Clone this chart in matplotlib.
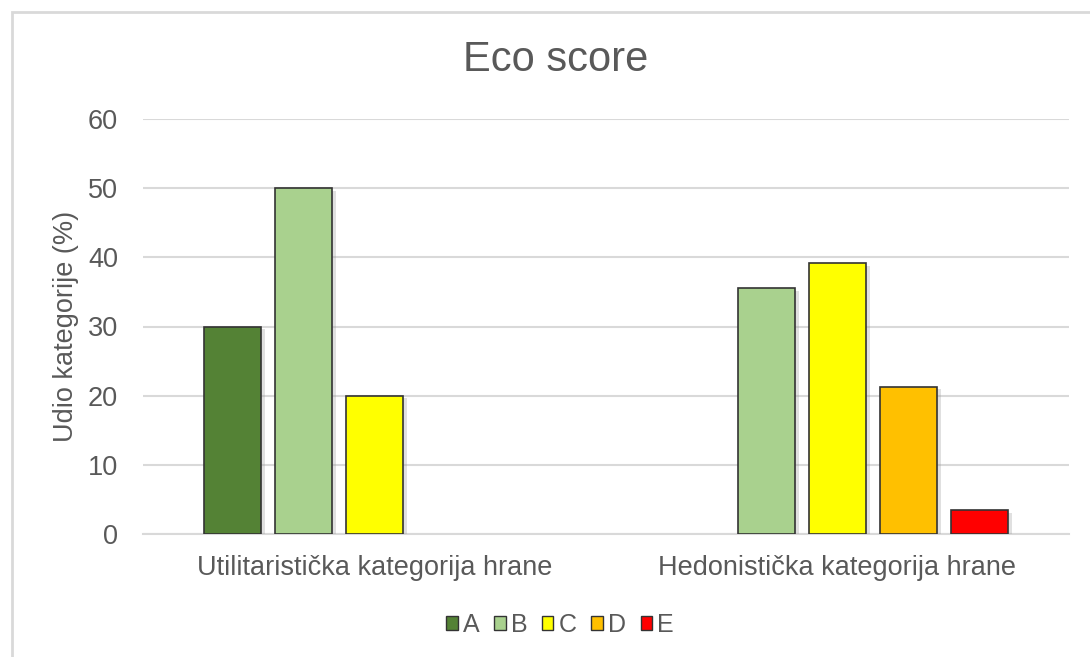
import numpy as np
import matplotlib.pyplot as plt
import matplotlib.patheffects as pe
from matplotlib.patches import Rectangle

plt.rcParams['font.family'] = ['Liberation Sans', 'DejaVu Sans']

# data
categories = ['Utilitaristička kategorija hrane', 'Hedonistička kategorija hrane']
grades = ['A', 'B', 'C', 'D', 'E']
values = {
    'A': [30.0, 0.0],
    'B': [50.0, 35.6],
    'C': [20.0, 39.2],
    'D': [0.0, 21.3],
    'E': [0.0, 3.4],
}
colors = ['#548235', '#a9d18e', '#ffff00', '#ffc000', '#ff0000']
yticks = [0, 10, 20, 30, 40, 50, 60]

text_col = '#595959'

fig = plt.figure(figsize=(10.9, 6.57), dpi=100)
ax = fig.add_axes([143 / 1090, 1 - 534 / 657, 926 / 1090, 415 / 657])

x = np.arange(len(categories))
slot = 71 / 463
width = 57 / 463
shadow = [pe.SimplePatchShadow(offset=(3, -2), shadow_rgbFace='#999999', alpha=0.3), pe.Normal()]

for i, g in enumerate(grades):
    pos = x + (i - 2) * slot
    vals = np.array(values[g])
    keep = vals > 0
    bars = ax.bar(pos[keep], vals[keep], width, color=colors[i], edgecolor='#333333',
                  linewidth=1.2, zorder=3, label=g)
    for b in bars:
        b.set_path_effects(shadow)

ax.set_xlim(-0.5, 1.5)
ax.set_ylim(0, 60)
ax.set_yticks(yticks)
ax.set_xticks(x)
ax.set_xticklabels(categories)
ax.tick_params(axis='both', length=0, labelsize=19.5, colors=text_col)
ax.tick_params(axis='x', pad=15)
ax.tick_params(axis='y', pad=18)
ax.grid(axis='y', color='#d9d9d9', linewidth=1.5, zorder=0)
ax.set_axisbelow(True)
for s in ['top', 'right', 'left']:
    ax.spines[s].set_visible(False)
ax.spines['bottom'].set_color('#d9d9d9')
ax.spines['bottom'].set_linewidth(1.5)

ax.set_ylabel('Udio kategorije (%)', fontsize=19.5, color=text_col, labelpad=6)
fig.text(556 / 1090, 1 - 60 / 657, 'Eco score', fontsize=30, color=text_col,
         ha='center', va='center')

handles = [Rectangle((0, 0), 1, 1, facecolor=c, edgecolor='#333333', linewidth=1) for c in colors]
fig.legend(handles, grades, loc='center', bbox_to_anchor=(560 / 1090, 1 - 625 / 657), ncol=5,
           frameon=False, fontsize=18, labelcolor=text_col, handlelength=0.45, handleheight=0.45,
           handletextpad=0.2, columnspacing=0.6)

# outer chart border (only top/left visible in crop)
fig.patches.append(Rectangle((12 / 1090, -0.1), 1.2, 1 - 12 / 657 + 0.1, transform=fig.transFigure,
                             fill=False, edgecolor='#d9d9d9', linewidth=2))

fig.savefig('out.png', dpi=100)
